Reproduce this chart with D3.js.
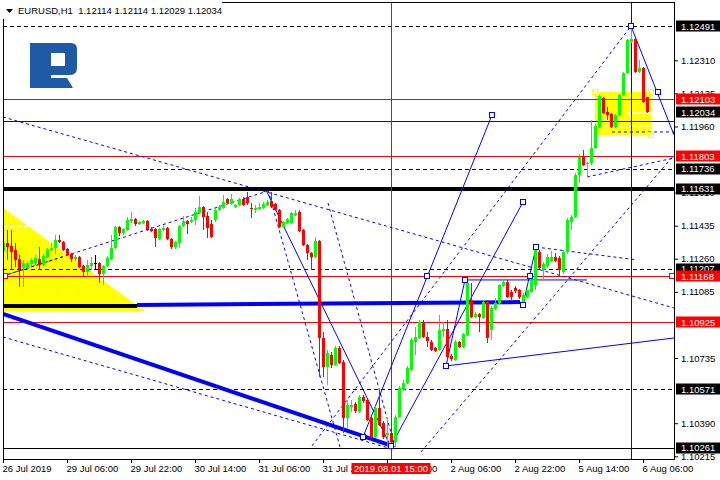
<!DOCTYPE html>
<html><head><meta charset="utf-8">
<script src="https://cdn.jsdelivr.net/npm/d3@7"></script>
<style>
html,body{margin:0;padding:0;background:#fff;}
svg{display:block;font-family:"Liberation Sans",Arial,sans-serif;}
</style></head><body>
<svg id="c" width="720" height="480"></svg>
<script>
// ---------- DATA ----------
const symbol = "EURUSD,H1";
const headerValues = ["1.12114","1.12114","1.12029","1.12034"];
const timeLabels = ["26 Jul 2019","29 Jul 06:00","29 Jul 22:00","30 Jul 14:00","31 Jul 06:00","31 Jul 22:00","1 Aug 14:00","2 Aug 06:00","2 Aug 22:00","5 Aug 14:00","6 Aug 06:00"];
const timeTickIndex = [0,16,32,48,64,80,96,112,128,144,160];
const priceTicks = [1.12310,1.12135,1.11960,1.11610,1.11435,1.11260,1.11085,1.10735,1.10390,1.10215];
const opens = [1.11301,1.11343,1.11327,1.11306,1.11258,1.11212,1.11212,1.11233,1.11238,1.11258,1.11228,1.11269,1.11306,1.11317,1.11359,1.11348,1.11311,1.11285,1.11258,1.11269,
1.11222,1.11190,1.11222,1.11238,1.11238,1.11180,1.11222,1.11258,1.11317,1.11428,1.11396,1.11412,1.11460,1.11470,1.11444,1.11449,1.11460,1.11417,1.11417,1.11364,
1.11412,1.11423,1.11364,1.11322,1.11343,1.11433,1.11460,1.11454,1.11465,1.11502,1.11534,1.11486,1.11444,1.11465,1.11518,1.11529,1.11576,1.11550,1.11534,1.11545,
1.11576,1.11587,1.11529,1.11518,1.11523,1.11529,1.11545,1.11566,1.11550,1.11518,1.11428,1.11449,1.11449,1.11492,1.11507,1.11412,1.11333,1.11290,1.11269,1.11354,
1.10841,1.10688,1.10752,1.10699,1.10788,1.10714,1.10418,1.10476,1.10492,1.10449,1.10529,1.10513,1.10418,1.10317,1.10471,1.10391,1.10328,1.10338,1.10290,1.10423,
1.10566,1.10603,1.10672,1.10819,1.10841,1.10925,1.10846,1.10819,1.10788,1.10778,1.10878,1.10888,1.10746,1.10725,1.10819,1.10793,1.10857,1.11042,1.10952,1.10968,
1.10947,1.11032,1.10883,1.10994,1.11026,1.11116,1.11137,1.11084,1.11106,1.11095,1.11016,1.11058,1.11084,1.11122,1.11295,1.11201,1.11222,1.11249,1.11269,1.11264,
1.11190,1.11295,1.11454,1.11481,1.11704,1.11799,1.11762,1.11767,1.11846,1.11957,1.12111,1.12036,1.12026,1.11957,1.12021,1.12127,1.12243,1.12407,1.12423,1.12248,
1.12269,1.12114];
const highs = [1.11370,1.11412,1.11412,1.11343,1.11280,1.11254,1.11249,1.11264,1.11280,1.11322,1.11285,1.11317,1.11343,1.11386,1.11386,1.11354,1.11317,1.11290,1.11280,1.11274,
1.11228,1.11254,1.11269,1.11280,1.11243,1.11228,1.11274,1.11386,1.11433,1.11433,1.11423,1.11481,1.11507,1.11476,1.11460,1.11465,1.11465,1.11428,1.11423,1.11423,
1.11439,1.11428,1.11370,1.11354,1.11439,1.11486,1.11465,1.11481,1.11529,1.11592,1.11539,1.11507,1.11465,1.11529,1.11545,1.11597,1.11582,1.11603,1.11550,1.11582,
1.11587,1.11613,1.11555,1.11545,1.11555,1.11560,1.11571,1.11613,1.11555,1.11523,1.11460,1.11476,1.11507,1.11518,1.11518,1.11417,1.11338,1.11295,1.11375,1.11359,
1.10872,1.10778,1.10767,1.10799,1.10799,1.10725,1.10513,1.10513,1.10502,1.10540,1.10540,1.10523,1.10428,1.10481,1.10566,1.10402,1.10418,1.10349,1.10434,1.10587,
1.10619,1.10693,1.10841,1.10899,1.10936,1.10936,1.10872,1.10830,1.10793,1.10963,1.10925,1.10936,1.10757,1.10830,1.10825,1.10867,1.11143,1.11132,1.10979,1.10973,
1.11042,1.11042,1.11010,1.11052,1.11127,1.11153,1.11148,1.11095,1.11116,1.11100,1.11079,1.11090,1.11185,1.11322,1.11306,1.11243,1.11285,1.11301,1.11290,1.11274,
1.11306,1.11476,1.11492,1.11714,1.11815,1.11836,1.11772,1.11994,1.11973,1.12127,1.12116,1.12063,1.12031,1.12026,1.12132,1.12248,1.12423,1.12491,1.12428,1.12312,
1.12275,1.12114];
const lows = [1.11285,1.11254,1.11201,1.11217,1.11111,1.11111,1.11201,1.11222,1.11228,1.11201,1.11222,1.11264,1.11295,1.11285,1.11343,1.11301,1.11274,1.11243,1.11249,1.11212,
1.11169,1.11164,1.11201,1.11201,1.11132,1.11122,1.11217,1.11254,1.11311,1.11380,1.11386,1.11407,1.11449,1.11433,1.11439,1.11444,1.11407,1.11401,1.11322,1.11359,
1.11407,1.11359,1.11311,1.11311,1.11317,1.11428,1.11391,1.11449,1.11439,1.11497,1.11412,1.11370,1.11370,1.11454,1.11513,1.11523,1.11550,1.11545,1.11529,1.11539,
1.11539,1.11545,1.11476,1.11502,1.11518,1.11523,1.11539,1.11529,1.11513,1.11423,1.11423,1.11444,1.11444,1.11486,1.11401,1.11327,1.11254,1.11201,1.11264,1.10635,
1.10635,1.10593,1.10683,1.10693,1.10704,1.10338,1.10365,1.10449,1.10444,1.10444,1.10497,1.10402,1.10312,1.10312,1.10375,1.10306,1.10269,1.10261,1.10264,1.10418,
1.10561,1.10598,1.10667,1.10752,1.10836,1.10841,1.10793,1.10773,1.10767,1.10773,1.10846,1.10725,1.10720,1.10720,1.10788,1.10788,1.10851,1.10947,1.10947,1.10872,
1.10941,1.10814,1.10830,1.10989,1.11021,1.11111,1.11052,1.11042,1.11079,1.11048,1.11010,1.11052,1.11079,1.11095,1.11201,1.11148,1.11212,1.11243,1.11243,1.11169,
1.11180,1.11285,1.11412,1.11476,1.11661,1.11751,1.11693,1.11757,1.11840,1.11952,1.12026,1.11994,1.11952,1.11952,1.12015,1.12121,1.12238,1.12401,1.12243,1.12243,
1.12084,1.12029];
const closes = [1.11343,1.11322,1.11295,1.11254,1.11206,1.11238,1.11238,1.11254,1.11264,1.11228,1.11274,1.11311,1.11317,1.11359,1.11348,1.11306,1.11280,1.11258,1.11269,1.11217,
1.11190,1.11228,1.11238,1.11238,1.11180,1.11222,1.11264,1.11317,1.11428,1.11396,1.11417,1.11465,1.11470,1.11444,1.11454,1.11460,1.11412,1.11407,1.11370,1.11417,
1.11423,1.11364,1.11322,1.11348,1.11433,1.11460,1.11444,1.11465,1.11507,1.11534,1.11481,1.11423,1.11375,1.11518,1.11534,1.11560,1.11555,1.11576,1.11545,1.11576,
1.11545,1.11555,1.11523,1.11529,1.11534,1.11550,1.11560,1.11534,1.11518,1.11428,1.11454,1.11470,1.11502,1.11502,1.11407,1.11333,1.11290,1.11269,1.11354,1.10841,
1.10688,1.10762,1.10699,1.10788,1.10709,1.10418,1.10487,1.10487,1.10455,1.10529,1.10508,1.10407,1.10317,1.10471,1.10381,1.10317,1.10338,1.10290,1.10423,1.10577,
1.10603,1.10683,1.10830,1.10846,1.10925,1.10846,1.10825,1.10778,1.10773,1.10883,1.10888,1.10741,1.10730,1.10819,1.10793,1.10862,1.11132,1.10952,1.10968,1.10952,
1.11032,1.10841,1.11000,1.11026,1.11122,1.11137,1.11058,1.11058,1.11090,1.11058,1.11069,1.11095,1.11159,1.11306,1.11212,1.11233,1.11269,1.11269,1.11249,1.11201,
1.11295,1.11465,1.11481,1.11704,1.11799,1.11757,1.11767,1.11846,1.11962,1.12121,1.12031,1.12021,1.11957,1.12021,1.12127,1.12243,1.12417,1.12423,1.12248,1.12269,
1.12089,1.12034];

// horizontal levels
const redLevels = [1.12103, 1.11803, 1.11168, 1.10925];
const dashedLevels = [1.12491, 1.11736, 1.11207, 1.10571];
const thickBlackLevel = 1.11631;
const solidBlackLevel = 1.10261;
const blueLevel = 1.11988;
// price labels on the axis
const blackTags = [1.12491, 1.12034, 1.11736, 1.11631, 1.11207, 1.10571, 1.10261];
const redTags = [1.12103, 1.11803, 1.11168, 1.10925];
// vertical lines (bar index)
const cursorIndex = 97, cursorLabel = "2019.08.01 15:00";
const blueVerticalIndex = 157;
// trend objects: [barIndex0, price0, barIndex1, price1]
const solidBlueSegs = [
 [66,1.11613,97,1.10264],[90,1.10317,122.25,1.12021],[97,1.10270,130,1.11560],
 [110.75,1.10693,167.75,1.10841],[110.75,1.10693,115.5,1.11148],[115.5,1.11148,146,1.11148],
 [130,1.11016,133.25,1.11322],[157,1.12491,167.75,1.11915]
];
const dashedBlueSegs = [
 [0,1.12010,167.75,1.11000],[0,1.10846,97.25,1.10254],[0,1.11169,66.25,1.11619],
 [66.25,1.11624,84.25,1.10264],[81.25,1.11555,98,1.10264],[77.25,1.10270,157,1.12491],
 [104.5,1.10238,167.75,1.11809],[133.25,1.11322,158.5,1.11254],[146,1.11693,167.75,1.11793],
 [152.25,1.11931,167.75,1.11931]
];
const dottedBlackSegs = [[0,1.11169,15,1.11271]];
const thickBlueDiag = [0,1.10968,97.25,1.10270];
const thickBlackSeg = [0,1.11010,33.5,1.11010];
const thickBlueSeg = [33.5,1.11016,129.25,1.11031];
const yellowTriangle = [[-2,1.11560],[-2,1.10984],[35.5,1.10984]];
const triangleLevels = [1.11433,1.11259,1.11090];
const yellowRect = [148,1.12142,162,1.11915];
const rectSolidWhite = [156,1.12031,162,1.12031];
const rectDashWhite = [148.5,1.11962,161.75,1.11962];
const blueSquares = [[122.25,1.12021],[130,1.11560],[110.75,1.10693],[115.5,1.11148],[130,1.11016],[133.25,1.11322],
 [131.75,1.11169],[106,1.11169],[90,1.10317],[97,1.10270],[157,1.12491],[163.75,1.12142]];
const yellowSquares = [[148,1.12142],[162,1.12142],[162,1.11915]];
const redSquares = [[0.5,1.11169],[167.25,1.11169]];

// ---------- DRAW ----------
const BLUE="#0000ff", RED="#ff0000", GREEN="#00ff00", YEL="#ffff00";
const FONT=9.5;
const x = d3.scaleLinear().domain([0,168]).range([3,675]);
const y = d3.scaleLinear().domain([1.10215,1.12310]).range([456.3,60.3]);
const svg = d3.select("#c");
svg.append("rect").attr("width",720).attr("height",480).attr("fill","#fff");
svg.append("defs").append("clipPath").attr("id","clip")
  .append("rect").attr("x",3).attr("y",2).attr("width",671).attr("height",457);
const g = svg.append("g").attr("clip-path","url(#clip)");

// logo
const lg = g.append("g").attr("fill","#1f5aa6");
lg.append("path").attr("fill-rule","evenodd")
  .attr("d","M30,43 H71 Q77,43 77,49 V68 Q77,75 70,75 H51 V88 H30 Z M51,53 H65 V66 H51 Z");
lg.append("path").attr("d","M51,78 H67 L73,88 H51 Z");

// yellow objects
g.append("polygon").attr("fill",YEL)
  .attr("points", yellowTriangle.map(d=>[x(d[0]),y(d[1])].join(",")).join(" "));
const t0=yellowTriangle[0], t2=yellowTriangle[2];
triangleLevels.forEach(p=>{
  const iEdge = t0[0] + (t2[0]-t0[0])*(t0[1]-p)/(t0[1]-t2[1]);
  g.append("line").attr("x1",x(0)).attr("x2",x(iEdge)).attr("y1",Math.round(y(p))+0.5).attr("y2",Math.round(y(p))+0.5)
   .attr("stroke","#fff").attr("stroke-dasharray","4,3");
});
g.append("rect").attr("fill",YEL)
  .attr("x",x(yellowRect[0])).attr("y",y(yellowRect[1]))
  .attr("width",x(yellowRect[2])-x(yellowRect[0])).attr("height",y(yellowRect[3])-y(yellowRect[1]));
g.append("line").attr("x1",x(rectSolidWhite[0])).attr("x2",x(rectSolidWhite[2]))
  .attr("y1",y(rectSolidWhite[1])).attr("y2",y(rectSolidWhite[3])).attr("stroke","#fff").attr("stroke-width",1.5);
g.append("line").attr("x1",x(rectDashWhite[0])).attr("x2",x(rectDashWhite[2]))
  .attr("y1",y(rectDashWhite[1])).attr("y2",y(rectDashWhite[3])).attr("stroke","#fff").attr("stroke-width",1.5).attr("stroke-dasharray","4,3");

// horizontal levels
function hline(p, color, w, dash){
  const yy = Math.round(y(p)) + (w%2 ? 0.5 : 0);
  const l = g.append("line").attr("x1",3).attr("x2",674).attr("y1",yy).attr("y2",yy)
    .attr("stroke",color).attr("stroke-width",w);
  if(dash) l.attr("stroke-dasharray",dash);
}
hline(blueLevel, BLUE, 1);
dashedLevels.forEach(p=>hline(p,"#000",1,"4,3"));
redLevels.forEach(p=>hline(p,RED,1));
hline(thickBlackLevel,"#000",4);
hline(solidBlackLevel,"#000",1);

// vertical lines
g.append("line").attr("x1",Math.round(x(cursorIndex))+0.5).attr("x2",Math.round(x(cursorIndex))+0.5)
  .attr("y1",2).attr("y2",459).attr("stroke",RED);
g.append("line").attr("x1",Math.round(x(blueVerticalIndex))+0.5).attr("x2",Math.round(x(blueVerticalIndex))+0.5)
  .attr("y1",2).attr("y2",459).attr("stroke",BLUE);

// trend segments
function seg(s, color, w, dash){
  const l = g.append("line").attr("x1",x(s[0])).attr("y1",y(s[1])).attr("x2",x(s[2])).attr("y2",y(s[3]))
    .attr("stroke",color).attr("stroke-width",w);
  if(dash) l.attr("stroke-dasharray",dash);
}
dashedBlueSegs.forEach(s=>seg(s,BLUE,1,"3,3"));
dottedBlackSegs.forEach(s=>seg(s,"#000",1,"2,3"));
solidBlueSegs.forEach(s=>seg(s,BLUE,1));
seg(thickBlackSeg,"#000",4);
seg(thickBlueSeg,BLUE,4);
seg(thickBlueDiag,BLUE,4);

// candles
const bars = g.append("g").attr("shape-rendering","crispEdges");
closes.forEach((c,i)=>{
  const o=opens[i], h=highs[i], l=lows[i];
  const col = c>o ? GREEN : (c<o ? RED : "#000");
  const cx = Math.round(x(i));
  bars.append("line").attr("x1",cx+0.5).attr("x2",cx+0.5).attr("y1",y(h)).attr("y2",y(l)).attr("stroke",col);
  const top = Math.round(Math.min(y(o),y(c)));
  const hgt = Math.max(1, Math.round(Math.abs(y(o)-y(c))));
  bars.append("rect").attr("x",cx-1).attr("y",top).attr("width",3).attr("height",hgt).attr("fill",col);
});

// squares
function squares(list, stroke){
  list.forEach(d=>{
    g.append("rect").attr("x",Math.round(x(d[0]))-2.5).attr("y",Math.round(y(d[1]))-2.5)
     .attr("width",5).attr("height",5).attr("fill","#fff").attr("stroke",stroke);
  });
}
squares(blueSquares,BLUE);
squares(yellowSquares,YEL);
squares(redSquares,RED);

// frame
const fr = svg.append("g").attr("stroke","#000").attr("shape-rendering","crispEdges");
fr.append("line").attr("x1",3).attr("x2",675).attr("y1",2.5).attr("y2",2.5);
fr.append("line").attr("x1",3.5).attr("x2",3.5).attr("y1",2).attr("y2",460);
fr.append("line").attr("x1",3).attr("x2",675).attr("y1",459.5).attr("y2",459.5);
fr.append("line").attr("x1",674.5).attr("x2",674.5).attr("y1",2).attr("y2",460);

// header
svg.append("rect").attr("x",0).attr("y",0).attr("width",222).attr("height",19).attr("fill","#fff");
svg.append("path").attr("d","M6,9 L13,9 L9.5,13 Z").attr("fill","#000");
svg.append("text").attr("x",18).attr("y",14).attr("font-size",FONT).attr("fill","#000")
  .attr("xml:space","preserve").text(symbol+"  "+headerValues.join(" "));

// right axis
const ay = svg.append("g").attr("transform","translate(674,0)")
  .call(d3.axisRight(y).tickValues(priceTicks).tickSize(4).tickPadding(3).tickFormat(d3.format(".5f")));
ay.select(".domain").remove();
ay.selectAll("text").attr("font-size",FONT).attr("font-family","Liberation Sans, Arial, sans-serif").attr("fill","#000");
ay.selectAll("line").attr("stroke","#000");
function tag(p, bg){
  const yy = y(p);
  svg.append("rect").attr("x",676).attr("y",Math.round(yy)-5.5).attr("width",44).attr("height",11).attr("fill",bg);
  svg.append("text").attr("x",681).attr("y",yy+3.5).attr("font-size",FONT).attr("fill","#fff").text(d3.format(".5f")(p));
}
blackTags.forEach(p=>tag(p,"#000"));
redTags.forEach(p=>tag(p,RED));

// bottom axis
const ax = svg.append("g").attr("transform","translate(0,459)")
  .call(d3.axisBottom(x).tickValues(timeTickIndex).tickSize(4).tickFormat((d,i)=>timeLabels[i]));
ax.select(".domain").remove();
ax.selectAll("line").attr("stroke","#000");
ax.selectAll("text").attr("font-size",FONT).attr("font-family","Liberation Sans, Arial, sans-serif")
  .attr("fill","#000").attr("text-anchor","start").attr("dy",null).attr("y",13).attr("dx",-1);
// cursor time label
const cxp = x(cursorIndex);
svg.append("rect").attr("x",cxp-39.5).attr("y",463).attr("width",79).attr("height",11).attr("fill",RED);
svg.append("text").attr("x",cxp).attr("y",472).attr("text-anchor","middle").attr("font-size",FONT).attr("fill","#fff").text(cursorLabel);
</script>
</body></html>
